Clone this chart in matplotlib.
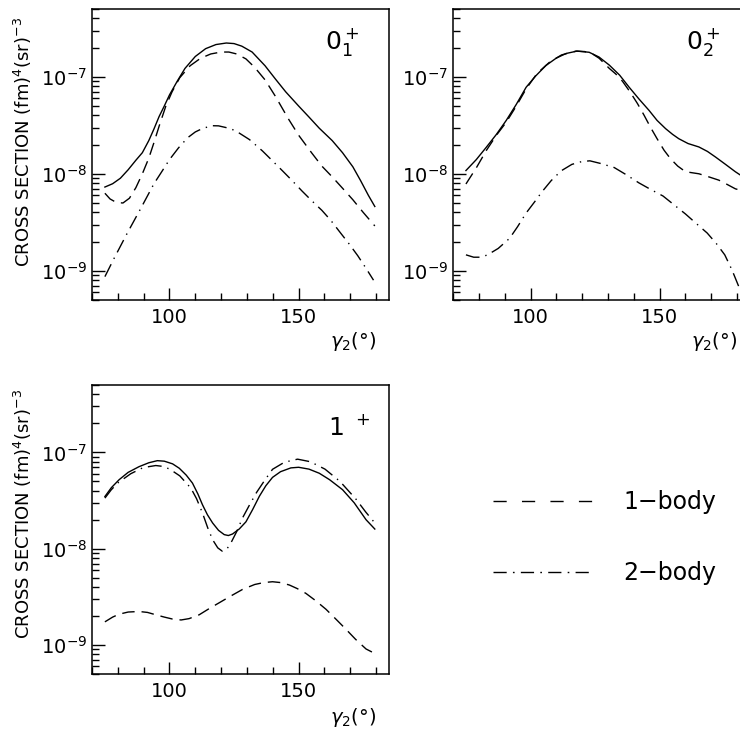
import matplotlib.pyplot as plt
from matplotlib.lines import Line2D
from matplotlib.ticker import MultipleLocator

# 0_1+ panel
x01_full = [75, 78, 81, 84, 87, 89.5, 92, 94, 96, 98, 100, 103, 106, 110, 114, 118, 122, 125, 128, 132, 137,
            141, 145, 150, 154, 158, 163, 167, 171, 174, 177, 179.5]
y01_full = [7.3e-9, 7.9e-9, 9.0e-9, 1.1e-8, 1.38e-8, 1.65e-8, 2.2e-8, 2.9e-8, 3.9e-8, 5.0e-8, 6.5e-8, 9.0e-8,
            1.22e-7, 1.62e-7, 1.95e-7, 2.15e-7, 2.23e-7, 2.2e-7, 2.07e-7, 1.8e-7, 1.3e-7, 9.5e-8, 7.0e-8,
            5.0e-8, 3.85e-8, 2.95e-8, 2.2e-8, 1.65e-8, 1.18e-8, 8.5e-9, 6.0e-9, 4.6e-9]
x01_one = [75, 77, 79.5, 82, 84.5, 87, 89.5, 92, 94, 96, 98.6, 101, 104, 108, 112, 116, 120, 123, 126, 129.6,
           133, 137, 141, 146, 150, 155, 159, 163, 167, 171, 175, 179.5]
y01_one = [6.3e-9, 5.5e-9, 5.05e-9, 5.0e-9, 5.6e-9, 7.2e-9, 1.0e-8, 1.45e-8, 2.1e-8, 3.1e-8, 5.0e-8, 7.0e-8,
           9.8e-8, 1.3e-7, 1.55e-7, 1.72e-7, 1.8e-7, 1.8e-7, 1.72e-7, 1.53e-7, 1.25e-7, 9.3e-8, 6.3e-8,
           3.7e-8, 2.5e-8, 1.65e-8, 1.2e-8, 9.3e-9, 7.1e-9, 5.4e-9, 4.0e-9, 2.9e-9]
x01_two = [75, 78.6, 83.5, 88.9, 94, 97, 100, 103.5, 107, 110, 113, 116.7, 119, 121.8, 124.5, 127, 131, 136,
           140, 143.8, 147.5, 151.3, 155, 159, 162.5, 166, 169.5, 172.9, 176, 179]
y01_two = [8.7e-10, 1.35e-9, 2.4e-9, 4.4e-9, 7.9e-9, 1.05e-8, 1.4e-8, 1.85e-8, 2.35e-8, 2.7e-8, 2.95e-8,
           3.13e-8, 3.12e-8, 3.0e-8, 2.85e-8, 2.63e-8, 2.25e-8, 1.72e-8, 1.35e-8, 1.07e-8, 8.5e-9, 6.65e-9,
           5.3e-9, 4.2e-9, 3.3e-9, 2.5e-9, 1.9e-9, 1.43e-9, 1.07e-9, 8.0e-10]

# 0_2+ panel
x02_full = [75, 79, 82.9, 86.8, 90.6, 94.5, 98.3, 102, 106, 110, 113.8, 118, 122.7, 126.5, 130.5, 134.5,
            138.2, 142, 145.9, 149, 152.3, 155, 157.4, 161, 165.2, 168.5, 171.6, 175.5, 179.3, 181]
y02_full = [1.08e-8, 1.4e-8, 1.88e-8, 2.55e-8, 3.55e-8, 5.2e-8, 7.8e-8, 1.02e-7, 1.31e-7, 1.56e-7, 1.74e-7,
            1.84e-7, 1.79e-7, 1.6e-7, 1.32e-7, 1.04e-7, 7.8e-8, 5.9e-8, 4.5e-8, 3.55e-8, 2.92e-8, 2.55e-8,
            2.3e-8, 2.05e-8, 1.89e-8, 1.7e-8, 1.49e-8, 1.25e-8, 1.05e-8, 9.8e-9]
x02_one = [75, 79, 82.9, 86.8, 90.6, 94.5, 98.3, 102.5, 107.3, 112, 117.6, 121, 124, 126.6, 130.5, 133,
           135.6, 138.5, 141.4, 144, 146.5, 149, 151.7, 154.2, 157, 160, 165.2, 169, 172.9, 176, 179.3, 181]
y02_one = [7.85e-9, 1.15e-8, 1.74e-8, 2.5e-8, 3.4e-8, 5.0e-8, 7.5e-8, 1.08e-7, 1.41e-7, 1.68e-7, 1.84e-7,
           1.82e-7, 1.72e-7, 1.55e-7, 1.22e-7, 1.07e-7, 9.0e-8, 7.0e-8, 5.3e-8, 4.0e-8, 3.0e-8, 2.3e-8,
           1.75e-8, 1.43e-8, 1.2e-8, 1.05e-8, 1.0e-8, 9.3e-9, 8.6e-9, 7.8e-9, 7.0e-9, 6.8e-9]
x02_two = [75, 78, 80.3, 83.2, 87.5, 91.9, 95, 98.3, 101.5, 104.4, 108, 111.8, 116, 120, 123, 127, 132.4,
           137, 142, 146.5, 151.3, 155.5, 160, 164, 168.4, 172, 175.2, 178, 181]
y02_two = [1.46e-9, 1.38e-9, 1.38e-9, 1.45e-9, 1.7e-9, 2.16e-9, 2.85e-9, 3.94e-9, 5.1e-9, 6.5e-9, 8.5e-9,
           1.07e-8, 1.25e-8, 1.34e-8, 1.36e-8, 1.28e-8, 1.16e-8, 9.8e-9, 8.05e-9, 6.9e-9, 5.9e-9, 4.8e-9,
           3.85e-9, 3.1e-9, 2.45e-9, 1.9e-9, 1.46e-9, 1.02e-9, 6.5e-10]

# 1+ panel
x1_full = [75, 77.5, 80.5, 84, 88.2, 92, 95.3, 98, 101.2, 103.8, 106.5, 108.9, 111, 112.8, 114.7, 116.7,
           119, 121.2, 122.8, 124.4, 127, 129.6, 132.2, 134.8, 137.3, 139.9, 143, 147, 150, 154, 158, 162,
           167, 171.5, 176.1, 179.5]
y1_full = [3.48e-8, 4.3e-8, 5.2e-8, 6.2e-8, 7.1e-8, 7.8e-8, 8.2e-8, 8.1e-8, 7.6e-8, 6.84e-8, 5.8e-8, 4.8e-8,
           3.7e-8, 2.85e-8, 2.25e-8, 1.85e-8, 1.55e-8, 1.4e-8, 1.37e-8, 1.42e-8, 1.6e-8, 1.9e-8, 2.55e-8,
           3.5e-8, 4.5e-8, 5.5e-8, 6.3e-8, 6.9e-8, 7.0e-8, 6.7e-8, 6.07e-8, 5.2e-8, 4.1e-8, 3.0e-8, 2.0e-8,
           1.6e-8]
x1_one = [75, 78, 80.5, 84, 88.2, 91.5, 94.7, 98, 101.2, 104.5, 107.6, 111.5, 115.5, 119.3, 123.5, 128.3,
          133, 136.5, 139.9, 143, 146.4, 149.5, 152.8, 156.5, 160.6, 164.5, 168.3, 172, 176.1, 179]
y1_one = [1.74e-9, 1.95e-9, 2.09e-9, 2.2e-9, 2.23e-9, 2.18e-9, 2.06e-9, 1.95e-9, 1.86e-9, 1.82e-9, 1.88e-9,
          2.06e-9, 2.4e-9, 2.75e-9, 3.2e-9, 3.78e-9, 4.25e-9, 4.45e-9, 4.54e-9, 4.45e-9, 4.2e-9, 3.85e-9,
          3.44e-9, 2.9e-9, 2.35e-9, 1.85e-9, 1.46e-9, 1.15e-9, 9.1e-10, 8.3e-10]
x1_two = [75, 77.5, 80.2, 85, 89.8, 94.7, 97.5, 100.1, 104, 108.3, 110.5, 112.8, 114.8, 116.7, 118.7, 120.5,
          122.2, 123.8, 126, 128.3, 131, 133.7, 136.8, 139.9, 144.5, 149.6, 154.5, 160.2, 166, 172.2, 176,
          179.5]
y1_two = [3.35e-8, 4.1e-8, 4.86e-8, 6.0e-8, 6.95e-8, 7.3e-8, 7.15e-8, 6.7e-8, 5.7e-8, 4.25e-8, 3.3e-8,
          2.34e-8, 1.65e-8, 1.24e-8, 1.02e-8, 9.4e-9, 9.9e-9, 1.15e-8, 1.5e-8, 2.09e-8, 2.85e-8, 3.83e-8,
          5.1e-8, 6.67e-8, 7.9e-8, 8.5e-8, 8.0e-8, 6.7e-8, 5.0e-8, 3.27e-8, 2.4e-8, 1.85e-8]

panel_labels = ["0$_1^+$", "0$_2^+$", "1 $^+$"]
legend_labels = ["1\u2212body", "2\u2212body"]

DASH = (9, 5)
DASHDOT = (10, 4.3, 1, 4.3)

fig = plt.figure(figsize=(7.4, 7.32), dpi=100)
ax1 = fig.add_axes([0.1243, 0.5902, 0.4014, 0.3975])
ax2 = fig.add_axes([0.6122, 0.5902, 0.4014, 0.3975])
ax3 = fig.add_axes([0.1243, 0.0792, 0.4014, 0.3948])

panels = [
    (ax1, x01_full, y01_full, x01_one, y01_one, x01_two, y01_two),
    (ax2, x02_full, y02_full, x02_one, y02_one, x02_two, y02_two),
    (ax3, x1_full, y1_full, x1_one, y1_one, x1_two, y1_two),
]

for i, (ax, xf, yf, xo, yo, xt, yt) in enumerate(panels):
    ax.plot(xf, yf, color='k', lw=1.0)
    ax.plot(xo, yo, color='k', lw=1.0, dashes=DASH)
    ax.plot(xt, yt, color='k', lw=1.0, dashes=DASHDOT)
    ax.set_yscale('log')
    ax.set_xlim(70, 185)
    ax.set_ylim(5e-10, 5e-7)
    ax.xaxis.set_major_locator(MultipleLocator(50))
    ax.xaxis.set_minor_locator(MultipleLocator(10))
    ax.tick_params(which='both', direction='in', top=False, right=False, width=1, labelsize=14)
    ax.tick_params(which='major', length=9)
    ax.tick_params(which='minor', length=5)
    ax.tick_params(axis='x', pad=6)
    ax.tick_params(axis='y', pad=3.5)
    for s in ax.spines.values():
        s.set_linewidth(1.1)
    ax.text(0.785 if i < 2 else 0.795, 0.862 if i < 2 else 0.827, panel_labels[i],
            transform=ax.transAxes, fontsize=18, va='baseline', ha='left')
    ax.set_xlabel(r"$\gamma_2$(°)", fontsize=14, ha='right', va='center')
    ax.xaxis.set_label_coords(0.956, -0.144 if i < 2 else -0.152)
    if i != 1:
        ax.set_ylabel(r"CROSS SECTION (fm)$^{4}$(sr)$^{-3}$", fontsize=13)
        ax.yaxis.set_label_coords(-0.195, 0.543 if i == 0 else 0.554)

handles = [Line2D([], [], color='k', lw=1.0, dashes=(9.5, 11)),
           Line2D([], [], color='k', lw=1.0, dashes=(9.5, 4.5, 1.2, 4.5))]
fig.legend(handles, legend_labels, loc='center left', bbox_to_anchor=(493 / 740, 0.2657),
           frameon=False, fontsize=17, handlelength=4.24, handletextpad=1.27,
           labelspacing=2.0, borderpad=0, borderaxespad=0)

fig.savefig('out.png', dpi=100)
